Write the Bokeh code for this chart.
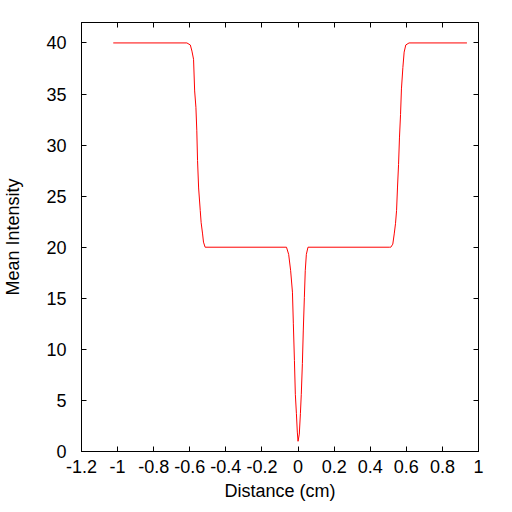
from bokeh.plotting import figure
from bokeh.models import LinearAxis, Range1d, FixedTicker
from bokeh.embed import file_html
from bokeh.resources import INLINE

# Data
distance = [-1.024, -0.616, -0.597, -0.588, -0.579, -0.573, -0.566, -0.561, -0.557,
            -0.551, -0.542, -0.537, -0.529, -0.524, -0.515,
            -0.064, -0.052, -0.041, -0.031, -0.026, -0.020, -0.015, -0.009, -0.004,
            0.0, 0.007, 0.013, 0.018, 0.024, 0.029, 0.035, 0.040, 0.046, 0.055,
            0.508, 0.514, 0.525, 0.533, 0.540, 0.546, 0.551, 0.557, 0.562, 0.568,
            0.573, 0.581, 0.588, 0.597, 0.615, 0.936]
intensity = [40.0, 40.0, 39.8, 39.2, 38.4, 35.3, 33.7, 31.4, 28.5,
             25.8, 23.6, 22.4, 21.3, 20.5, 20.0,
             20.0, 19.3, 17.7, 15.6, 12.5, 8.9, 5.6, 3.7, 1.9,
             1.0, 1.7, 3.7, 5.6, 8.6, 11.8, 15.1, 17.7, 19.3, 20.0,
             20.0, 20.0, 20.3, 21.3, 22.3, 23.6, 25.8, 28.1, 30.7, 33.0,
             35.5, 37.6, 39.1, 39.8, 40.0, 40.0]
x_ticks = [-1.2, -1.0, -0.8, -0.6, -0.4, -0.2, 0.0, 0.2, 0.4, 0.6, 0.8, 1.0]
x_tick_labels = ["-1.2", "-1", "-0.8", "-0.6", "-0.4", "-0.2", "0", "0.2", "0.4", "0.6", "0.8", "1"]
y_ticks = [0, 5, 10, 15, 20, 25, 30, 35, 40]

FONT = "Liberation Sans"
FS = "18px"

p = figure(width=500, height=504, output_backend="svg", toolbar_location=None,
           x_range=Range1d(-1.2, 1.0), y_range=Range1d(0, 42),
           x_axis_label="Distance (cm)", y_axis_label="Mean Intensity",
           min_border_left=79, min_border_right=22, min_border_top=22, min_border_bottom=53)
p.grid.visible = False
p.outline_line_color = "black"
p.outline_line_width = 1
p.background_fill_color = "white"
p.border_fill_color = "white"

p.line(distance, intensity, line_color="red", line_width=1)

def style(ax, ticks, labels=True):
    ax.ticker = FixedTicker(ticks=ticks)
    ax.major_tick_in = 5
    ax.major_tick_out = 0
    ax.minor_tick_in = 0
    ax.minor_tick_out = 0
    ax.axis_line_color = "black"
    ax.major_tick_line_color = "black"
    ax.major_label_text_font = FONT
    ax.major_label_text_font_size = FS if labels else "0px"
    ax.major_label_text_color = "black"
    ax.axis_label_text_font = FONT
    ax.axis_label_text_font_size = FS
    ax.axis_label_text_font_style = "normal"
    ax.axis_label_text_color = "black"

style(p.xaxis[0], x_ticks)
p.xaxis[0].major_label_overrides = {t: l for t, l in zip(x_ticks, x_tick_labels)}
p.xaxis[0].major_label_standoff = 8
p.xaxis[0].axis_label_standoff = 5
style(p.yaxis[0], y_ticks)
p.yaxis[0].major_label_standoff = 15
p.yaxis[0].axis_label_standoff = 20

top = LinearAxis()
style(top, x_ticks, labels=False)
right = LinearAxis()
style(right, y_ticks, labels=False)
p.add_layout(top, "above")
p.add_layout(right, "right")

open("out.html", "w").write(file_html(p, INLINE))
